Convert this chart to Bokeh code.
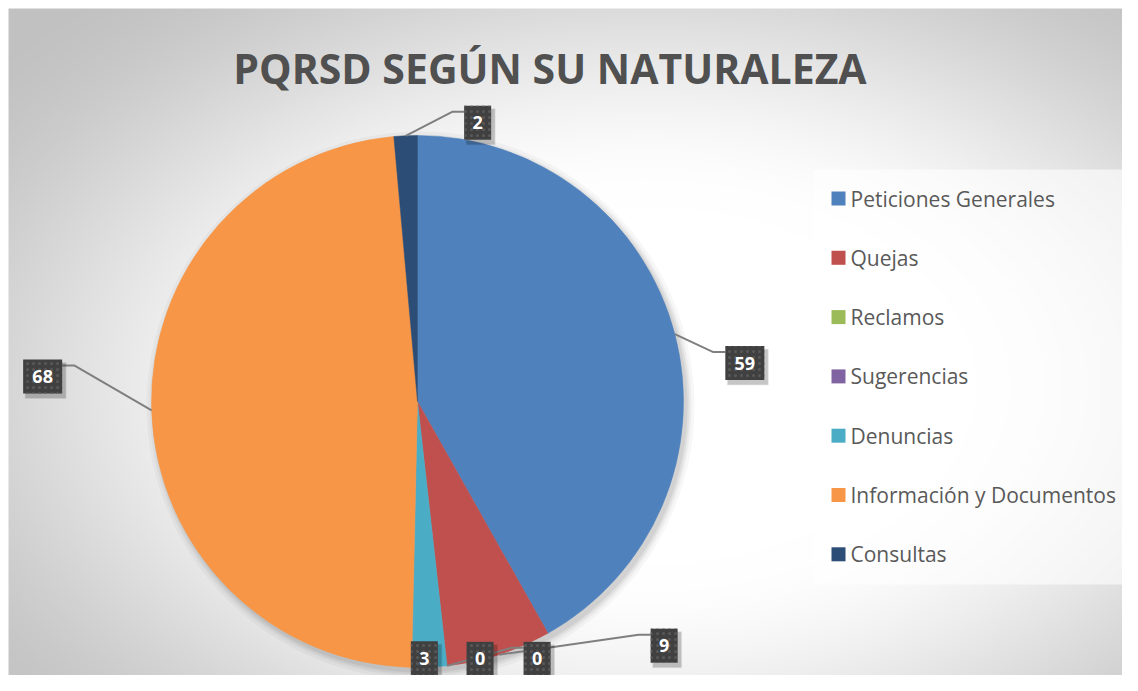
import numpy as np
from bokeh.plotting import figure
from bokeh.models import Range1d, ColumnDataSource
from bokeh.embed import file_html
from bokeh.resources import INLINE
from bokeh.core.properties import value

# ---------------- data ----------------
title_text = "PQRSD SEGÚN SU NATURALEZA"
categories = ["Peticiones Generales", "Quejas", "Reclamos", "Sugerencias",
              "Denuncias", "Información y Documentos", "Consultas"]
counts = [59, 9, 0, 0, 3, 68, 2]
colors = ["#4F81BD", "#C0504D", "#9BBB59", "#8064A2",
          "#4BACC6", "#F79646", "#2C4D75"]

# ---------------- layout / style ----------------
W, H = 1122, 675
CX, CY, R = 417, 274, 266
FONT = "Open Sans"
# data label box offsets (pixels) from slice mid rim point, and leader flag
label_dx = [70, 165, 33, 90, -5, -109, 72]
label_dy = [-29, 9, 7, 7, 9, 34, 13]
label_leader = [True, True, False, True, False, True, True]

p = figure(width=W, height=H, x_range=Range1d(0, W), y_range=Range1d(0, H),
           output_backend="svg", toolbar_location=None, min_border=0)
p.axis.visible = False
p.grid.visible = False
p.outline_line_color = None
p.background_fill_color = "#ffffff"
p.border_fill_color = "#ffffff"

# background radial gradient (decoration), white 8px strip on top/left
step = 2
gx = np.arange(0, W, step) + step / 2
gy = np.arange(0, H, step) + step / 2
XX, YY = np.meshgrid(gx, gy)
sx = XX
sy = H - YY
d = np.sqrt(((sx - 645) / 640.0) ** 2 + ((sy - 385) / 400.0) ** 2)
t = np.clip((d - 0.45) / 0.9, 0, 1)
t = t * t * (3 - 2 * t)
c = (255 - 62 * t)
c = np.where((sx < 8) | (sy < 8), 255, c).astype(np.uint32)
img = (np.uint32(255) << 24) | (c << 16) | (c << 8) | c
p.image_rgba(image=[img.astype(np.uint32)], x=0, y=0, dw=W, dh=H)

# pie shadow
for k, a in [(8, 0.03), (5, 0.04), (3, 0.05), (1, 0.06)]:
    p.circle(x=[CX + 3], y=[CY - 4], radius=R + k, fill_color="black",
             fill_alpha=a, line_color=None)

# pie wedges
total = float(sum(counts))
cum = np.concatenate([[0], np.cumsum(counts)]) / total * 2 * np.pi
starts = np.pi / 2 - cum[:-1]
ends = np.pi / 2 - cum[1:]
mids = (starts + ends) / 2
idx = [i for i, v in enumerate(counts) if v > 0]
src = ColumnDataSource(dict(s=[starts[i] for i in idx], e=[ends[i] for i in idx],
                            c=[colors[i] for i in idx]))
p.wedge(x=CX, y=CY, radius=R, start_angle="s", end_angle="e", direction="clock",
        fill_color="c", line_color="c", line_width=0.5, source=src)

# data labels
rim_x = CX + R * np.cos(mids)
rim_y = CY + R * np.sin(mids)
boxes = []
for i, v in enumerate(counts):
    txt = str(v)
    bw = 15 + 12 * len(txt)
    bx = rim_x[i] + label_dx[i]
    by = rim_y[i] + label_dy[i]
    boxes.append((txt, bx, by, bw))
    if label_leader[i]:
        ay = by + 11
        if bx > rim_x[i] + 20:
            ex = bx - bw / 2
            ox = ex - 12
        else:
            ex = bx + bw / 2
            ox = ex + 12
        p.line(x=[rim_x[i], ox, ex], y=[rim_y[i], ay, ay],
               line_color="#7f7f7f", line_width=2)

bh = 34
for txt, bx, by, bw in boxes:
    for k, a in [(5, 0.06), (4, 0.08), (3, 0.1)]:
        p.rect(x=[bx + 3], y=[by - 4], width=bw + k - 2, height=bh + k - 2,
               fill_color="black", fill_alpha=a, line_color=None)
    p.rect(x=[bx], y=[by], width=bw, height=bh, fill_color="#404040",
           line_color=None, hatch_pattern="dot", hatch_color="#585858",
           hatch_scale=6, hatch_weight=1.2)
    p.text(x=[bx], y=[by], text=[txt], text_color="white",
           text_font=value(FONT), text_font_style="bold",
           text_font_size="18px", text_align="center", text_baseline="middle")

# title
p.text(x=[549.5], y=[608], text=[title_text], text_color="#505050",
       text_font=value(FONT), text_font_style="bold", text_font_size="41px",
       text_align="center", text_baseline="middle")

# legend
p.rect(x=[971], y=[298.5], width=316, height=415, fill_color="white",
       fill_alpha=0.6, line_color=None)
ly = [477 - i * 59.3 for i in range(len(categories))]
p.rect(x=[838] * len(categories), y=ly, width=14, height=14,
       fill_color=colors, line_color=None)
p.text(x=[850] * len(categories), y=ly, text=categories, text_color="#595959",
       text_font=value(FONT), text_font_size="21px", text_align="left",
       text_baseline="middle")

open("out.html", "w").write(file_html(p, INLINE))
